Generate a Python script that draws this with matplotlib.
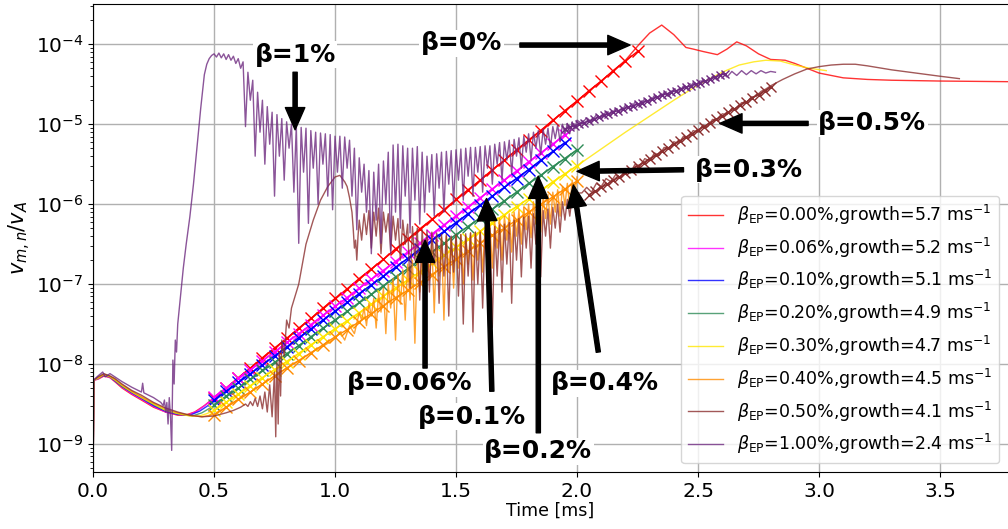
import numpy as np
import matplotlib.pyplot as plt

# values: time in ms, amplitude as log10(v_mn / v_A)

labels = [r'$\beta_{\rm EP}$=0.00%,growth=5.7 ms$^{-1}$',
          r'$\beta_{\rm EP}$=0.06%,growth=5.2 ms$^{-1}$',
          r'$\beta_{\rm EP}$=0.10%,growth=5.1 ms$^{-1}$',
          r'$\beta_{\rm EP}$=0.20%,growth=4.9 ms$^{-1}$',
          r'$\beta_{\rm EP}$=0.30%,growth=4.7 ms$^{-1}$',
          r'$\beta_{\rm EP}$=0.40%,growth=4.5 ms$^{-1}$',
          r'$\beta_{\rm EP}$=0.50%,growth=4.1 ms$^{-1}$',
          r'$\beta_{\rm EP}$=1.00%,growth=2.4 ms$^{-1}$']

# beta = 0 %
t_b000 = [0.0, 0.003, 0.02, 0.045, 0.07, 0.09, 0.12, 0.16, 0.2, 0.25, 0.3, 0.35, 0.38, 0.42, 0.46, 0.5,
          0.6, 0.8, 1.0, 1.2, 1.4, 1.6, 1.8, 2.0, 2.1, 2.2, 2.26, 2.3, 2.35, 2.4, 2.45, 2.48, 2.52, 2.58,
          2.62, 2.66, 2.7, 2.75, 2.8, 2.86, 2.9, 2.95, 3.0, 3.1, 3.2, 3.3, 3.5, 3.85]
lv_b000 = [-9.5, -8.2, -8.19, -8.15, -8.17, -8.22, -8.3, -8.38, -8.45, -8.54, -8.6, -8.64, -8.64, -8.6, -8.52, -8.42,
           -8.18, -7.68, -7.19, -6.69, -6.2, -5.7, -5.2, -4.71, -4.46, -4.2, -3.99, -3.86, -3.76, -3.88, -4.04, -4.06,
           -4.09, -4.13, -4.06, -3.97, -4.02, -4.12, -4.19, -4.2, -4.24, -4.3, -4.36, -4.42, -4.44, -4.45, -4.46, -4.47]

# beta = 0.06 %
t_b006 = [0.0, 0.003, 0.02, 0.045, 0.07, 0.09, 0.12, 0.16, 0.2, 0.25, 0.3, 0.35, 0.39, 0.43, 0.47, 0.5,
          0.7, 1.0, 1.3, 1.6, 1.97]
lv_b006 = [-9.5, -8.2, -8.19, -8.14, -8.17, -8.21, -8.29, -8.37, -8.44, -8.53, -8.6, -8.63, -8.64, -8.59, -8.5, -8.42,
           -7.96, -7.28, -6.6, -5.92, -5.09]

# beta = 0.1 %
t_b010 = [0.0, 0.003, 0.02, 0.045, 0.07, 0.09, 0.12, 0.16, 0.2, 0.25, 0.3, 0.35, 0.4, 0.44, 0.47, 0.5,
          0.7, 1.0, 1.3, 1.6, 1.97]
lv_b010 = [-9.5, -8.2, -8.18, -8.14, -8.16, -8.21, -8.28, -8.36, -8.43, -8.52, -8.59, -8.63, -8.64, -8.59, -8.53, -8.46,
           -8.01, -7.34, -6.68, -6.01, -5.19]

# beta = 0.2 %
t_b020 = [0.0, 0.003, 0.02, 0.045, 0.07, 0.09, 0.12, 0.16, 0.2, 0.25, 0.3, 0.35, 0.41, 0.45, 0.5,
          0.7, 1.0, 1.3, 1.6, 2.0]
lv_b020 = [-9.5, -8.2, -8.18, -8.13, -8.16, -8.2, -8.28, -8.35, -8.42, -8.51, -8.58, -8.62, -8.65, -8.61, -8.52,
           -8.09, -7.45, -6.81, -6.17, -5.32]

# beta = 0.3 %
t_b030 = [0.0, 0.003, 0.02, 0.045, 0.07, 0.09, 0.12, 0.16, 0.2, 0.25, 0.3, 0.35, 0.4, 0.44, 0.47, 0.5,
          0.7, 1.0, 1.3, 1.6, 2.0, 2.1, 2.2, 2.3, 2.4, 2.5, 2.6, 2.67, 2.73, 2.78, 2.84, 2.9, 2.96, 3.03]
lv_b030 = [-9.5, -8.2, -8.18, -8.13, -8.16, -8.2, -8.27, -8.35, -8.42, -8.5, -8.58, -8.62, -8.65, -8.65, -8.62, -8.58,
           -8.17, -7.56, -6.95, -6.34, -5.52, -5.31, -5.1, -4.9, -4.7, -4.51, -4.35, -4.26, -4.22, -4.2, -4.21,
           -4.26, -4.3, -4.33]

# beta = 0.4 %  (smooth start, then samples every 0.01 ms from 1.10 ms)
t_b040 = [0.0, 0.003, 0.02, 0.045, 0.07, 0.09, 0.12, 0.16, 0.2, 0.25, 0.3, 0.35, 0.4, 0.45, 0.5,
          0.6, 0.7, 0.8, 0.9, 0.96, 1.0, 1.02, 1.04, 1.06, 1.08]
lv_b040 = [-9.5, -8.2, -8.17, -8.13, -8.15, -8.19, -8.26, -8.34, -8.41, -8.49, -8.56, -8.61, -8.64, -8.66, -8.63,
           -8.45, -8.25, -8.05, -7.86, -7.76, -7.68, -7.60, -7.70, -7.52, -7.62]
lv_b040_noisy = [-7.36, -7.45, -7.30, -7.52, -7.24, -7.40, -7.18, -7.55, -7.12, -7.35,
                 -7.05, -7.62, -7.00, -7.30, -6.93, -7.70, -6.88, -7.25, -6.82, -7.45,
                 -6.75, -7.20, -6.70, -7.74, -6.62, -7.10, -6.58, -7.40, -6.52, -6.95,
                 -6.48, -7.36, -6.45, -6.90, -6.42, -7.45, -6.40, -6.85, -6.42, -7.05,
                 -6.40, -6.80, -6.38, -7.00, -6.40, -6.75, -6.36, -6.95, -6.35, -6.70,
                 -6.33, -6.85, -6.30, -6.62, -6.26, -6.80, -6.22, -6.55, -6.18, -6.70,
                 -6.15, -6.45, -6.12, -6.60, -6.10, -6.40, -6.07, -6.50, -6.04, -6.32,
                 -6.00, -6.42, -5.97, -6.25, -5.94, -6.35, -5.91, -6.18, -5.88, -6.25,
                 -5.85, -6.10, -5.82, -6.15, -5.78, -6.02, -5.74, -6.05, -5.70, -5.90,
                 -5.66]

# beta = 0.5 %
t_b050 = [0.0, 0.003, 0.02, 0.045, 0.07, 0.09, 0.12, 0.16, 0.2, 0.25, 0.3, 0.35, 0.4, 0.45, 0.5, 0.55,
          0.58, 0.61, 0.63, 0.64, 0.65, 0.66, 0.67, 0.68, 0.69, 0.70, 0.71, 0.72, 0.73, 0.74,
          0.75, 0.755, 0.76, 0.765, 0.77, 0.775, 0.78, 0.79, 0.80, 0.81, 0.82, 0.83,
          0.85, 0.88, 0.91, 0.94, 0.97, 1.0, 1.02, 1.04, 1.05, 1.06, 1.07, 1.075, 1.08, 1.085, 1.09, 1.095]
lv_b050 = [-9.5, -8.2, -8.16, -8.12, -8.15, -8.18, -8.25, -8.33, -8.39, -8.48, -8.55, -8.6, -8.64, -8.66, -8.65, -8.61,
           -8.58, -8.54, -8.50, -8.53, -8.47, -8.52, -8.43, -8.53, -8.40, -8.56, -8.35, -8.6, -8.26, -8.66,
           -8.10, -8.91, -7.98, -8.75, -7.85, -8.4, -7.7, -7.9, -7.45, -7.55, -7.3, -7.2,
           -7.0, -6.5, -6.2, -5.95, -5.78, -5.66, -5.64, -5.72, -5.78, -5.92, -6.1, -6.3, -6.55, -6.45, -6.7, -6.4]
lv_b050_noisy = [-6.20, -6.45, -6.12, -6.38, -6.08, -6.55, -6.10, -6.40, -6.05, -6.62,
                 -6.10, -6.35, -6.12, -6.58, -6.15, -6.45, -6.18, -6.70, -6.20, -6.50,
                 -6.25, -7.05, -6.28, -6.70, -6.30, -7.20, -6.32, -6.80, -6.33, -7.10,
                 -6.35, -6.75, -6.36, -7.24, -6.38, -6.90, -6.38, -7.40, -6.40, -6.85,
                 -6.38, -7.15, -6.38, -7.50, -6.37, -6.90, -6.36, -7.60, -6.35, -7.00,
                 -6.35, -7.30, -6.33, -6.85, -6.30, -7.54, -6.28, -6.90, -6.26, -7.10,
                 -6.25, -6.75, -6.23, -7.24, -6.20, -6.70, -6.18, -6.91, -6.16, -6.55,
                 -6.15, -6.80, -6.12, -6.50, -6.10, -6.91, -6.08, -6.40, -6.06, -6.55,
                 -6.04, -6.30, -6.00, -6.35, -5.97, -6.20, -5.94, -6.15, -5.90, -6.05,
                 -5.86]
lv_b050_late = [-5.86, -5.79, -5.85, -5.74, -5.78, -5.68, -5.72, -5.63, -5.67, -5.57,
                -5.61, -5.50, -5.53, -5.43, -5.46, -5.36, -5.39, -5.29, -5.31, -5.22,
                -5.24, -5.15, -5.17, -5.08, -5.10, -5.01, -5.03, -4.94, -4.95, -4.87,
                -4.88, -4.80, -4.81, -4.73, -4.73, -4.66, -4.65, -4.59, -4.56, -4.52]
t_b050_end = [2.85, 2.9, 2.95, 3.0, 3.05, 3.1, 3.15, 3.2, 3.3, 3.4, 3.5, 3.58]
lv_b050_end = [-4.44, -4.37, -4.31, -4.28, -4.26, -4.25, -4.25, -4.27, -4.32, -4.36, -4.40, -4.43]

# beta = 1 %
t_b100 = [0.0, 0.003, 0.02, 0.04, 0.05, 0.07, 0.09, 0.12, 0.16, 0.2, 0.205, 0.21, 0.25, 0.28, 0.29, 0.295,
          0.30, 0.305, 0.31, 0.315, 0.32, 0.325, 0.33, 0.335, 0.34, 0.345, 0.35, 0.36, 0.373, 0.385,
          0.40, 0.415, 0.43, 0.445, 0.46, 0.47, 0.48, 0.49]
lv_b100 = [-9.5, -8.2, -8.15, -8.1, -8.16, -8.12, -8.16, -8.22, -8.29, -8.35, -8.24, -8.36, -8.42, -8.48, -8.52, -8.45,
           -8.60, -8.48, -8.75, -8.42, -8.65, -9.08, -7.95, -8.25, -7.7, -7.85, -7.5, -7.2, -6.8, -6.5,
           -6.16, -5.75, -5.28, -4.8, -4.38, -4.25, -4.18, -4.14]
lv_b100_noisy = [-4.12, -4.16, -4.11, -4.17, -4.12, -4.19, -4.13, -4.20, -4.15, -4.24,
                 -4.18, -4.30, -4.22, -5.03, -4.35, -4.70, -4.45, -5.40, -4.60, -5.10,
                 -4.70, -5.50, -4.78, -5.25, -4.85, -5.90, -4.88, -5.40, -4.93, -5.70,
                 -4.97, -5.30, -5.00, -5.85, -5.02, -6.49, -5.04, -5.60, -5.05, -6.24,
                 -5.08, -5.55, -5.10, -6.00, -5.11, -5.50, -5.12, -5.90, -5.13, -6.07,
                 -5.15, -5.60, -5.15, -5.80, -5.16, -5.55, -5.20, -5.90, -5.30, -6.32,
                 -5.42, -5.85, -5.50, -6.10, -5.58, -6.62, -5.60, -6.20, -5.50, -6.49,
                 -5.46, -6.00, -5.35, -6.62, -5.26, -6.10, -5.25, -6.30, -5.27, -5.90,
                 -5.30, -6.36, -5.30, -5.95, -5.28, -6.25, -5.35, -6.10, -5.40, -5.85,
                 -5.38, -6.15, -5.37, -5.80, -5.35, -6.10, -5.34, -5.75, -5.33, -6.00,
                 -5.32, -5.70, -5.31, -5.95, -5.30, -5.65, -5.29, -5.90, -5.29, -5.60,
                 -5.28, -5.85, -5.27, -5.55, -5.27, -5.75, -5.25, -5.50, -5.23, -5.70,
                 -5.22, -5.45, -5.20, -5.62, -5.19, -5.40, -5.17, -5.55, -5.15, -5.35,
                 -5.12, -5.45, -5.10, -5.30, -5.08, -5.38, -5.06, -5.25, -5.05, -5.30,
                 -5.03, -5.18, -5.01, -5.22, -5.00, -5.12, -4.99, -5.12, -4.97, -5.06,
                 -4.95]
lv_b100_late = [-4.99, -4.92, -4.97, -4.88, -4.93, -4.84, -4.89, -4.80, -4.86, -4.76,
                -4.82, -4.72, -4.77, -4.68, -4.73, -4.64, -4.69, -4.60, -4.65, -4.56,
                -4.61, -4.52, -4.57, -4.48, -4.53, -4.44, -4.49, -4.40, -4.45, -4.36,
                -4.41, -4.34, -4.39, -4.33, -4.38, -4.33, -4.37, -4.33, -4.36, -4.34,
                -4.35]

# exponential fits drawn with x markers: first sample time, sample spacing, values
fit_start = [0.50, 0.50, 0.50, 0.50, 0.50, 0.50, 2.05, 1.95]
fit_step = [0.05, 0.05, 0.05, 0.05, 0.05, 0.05, 0.025, 0.02]
fit_b000 = [-8.42, -8.30, -8.17, -8.05, -7.92, -7.80, -7.68, -7.55, -7.43, -7.30, -7.18, -7.06, -6.93, -6.81,
            -6.69, -6.56, -6.44, -6.31, -6.19, -6.07, -5.94, -5.82, -5.70, -5.57, -5.45, -5.32, -5.20, -5.08,
            -4.95, -4.83, -4.71, -4.58, -4.46, -4.33, -4.21, -4.09]
fit_b006 = [-8.41, -8.30, -8.18, -8.07, -7.96, -7.85, -7.73, -7.62, -7.51, -7.39, -7.28, -7.17, -7.05, -6.94,
            -6.83, -6.72, -6.60, -6.49, -6.38, -6.26, -6.15, -6.04, -5.92, -5.81, -5.70, -5.59, -5.47, -5.36,
            -5.25, -5.13]
fit_b010 = [-8.45, -8.34, -8.23, -8.12, -8.01, -7.90, -7.79, -7.67, -7.56, -7.45, -7.34, -7.23, -7.12, -7.01,
            -6.90, -6.79, -6.68, -6.56, -6.45, -6.34, -6.23, -6.12, -6.01, -5.90, -5.79, -5.68, -5.57, -5.45,
            -5.34, -5.23]
fit_b020 = [-8.51, -8.40, -8.30, -8.19, -8.08, -7.98, -7.87, -7.77, -7.66, -7.55, -7.45, -7.34, -7.23, -7.13,
            -7.02, -6.91, -6.81, -6.70, -6.60, -6.49, -6.38, -6.28, -6.17, -6.06, -5.96, -5.85, -5.74, -5.64,
            -5.53, -5.43, -5.32]
fit_b030 = [-8.58, -8.48, -8.38, -8.27, -8.17, -8.07, -7.97, -7.87, -7.76, -7.66, -7.56, -7.46, -7.36, -7.25,
            -7.15, -7.05, -6.95, -6.85, -6.74, -6.64, -6.54, -6.44, -6.34, -6.23, -6.13, -6.03, -5.93, -5.83,
            -5.72, -5.62, -5.52]
fit_b040 = [-8.64, -8.54, -8.44, -8.35, -8.25, -8.15, -8.05, -7.96, -7.86, -7.76, -7.66, -7.57, -7.47, -7.37,
            -7.27, -7.17, -7.08, -6.98, -6.88, -6.78, -6.69, -6.59, -6.49, -6.39, -6.30, -6.20, -6.10, -6.00,
            -5.91, -5.81, -5.71]
fit_b050 = [-5.88, -5.84, -5.79, -5.75, -5.70, -5.66, -5.61, -5.57, -5.52, -5.48, -5.43, -5.39, -5.34, -5.30,
            -5.25, -5.21, -5.16, -5.12, -5.07, -5.03, -4.98, -4.94, -4.90, -4.85, -4.81, -4.76, -4.72, -4.67,
            -4.63, -4.58, -4.54]
fit_b100 = [-5.06, -5.04, -5.02, -5.00, -4.98, -4.96, -4.94, -4.91, -4.89, -4.87, -4.85, -4.83, -4.81, -4.79,
            -4.77, -4.75, -4.73, -4.71, -4.69, -4.66, -4.64, -4.62, -4.60, -4.58, -4.56, -4.54, -4.52, -4.50,
            -4.48, -4.46, -4.44, -4.41, -4.39, -4.37]

# annotations: text, text position, arrow tail, arrow tip (time, log10 value)
notes = [('β=1%', (0.835, -4.13), (0.835, -4.35), (0.835, -5.07)),
         ('β=0%', (1.523, -3.99), (1.764, -4.01), (2.219, -4.01)),
         ('β=0.5%', (3.22, -4.99), (2.955, -4.99), (2.59, -4.99)),
         ('β=0.3%', (2.71, -5.57), (2.44, -5.57), (2.0, -5.59)),
         ('β=0.06%', (1.31, -8.24), (1.372, -8.05), (1.372, -6.45)),
         ('β=0.1%', (1.565, -8.66), (1.648, -8.34), (1.626, -5.93)),
         ('β=0.2%', (1.84, -9.09), (1.84, -8.86), (1.84, -5.65)),
         ('β=0.4%', (2.116, -8.24), (2.088, -7.85), (1.985, -5.76))]

colors = ['red', 'magenta', 'blue', 'seagreen', '#ffe600', 'darkorange', '#8b2e2e', '#6e2a80']
marker_sizes = [8.5, 8.5, 8.5, 8.5, 8.5, 8.5, 7, 6]


def sample_times(t0, step, n):
    return t0 + step * np.arange(n)


def build_series():
    series = [
        (t_b000, lv_b000),
        (t_b006, lv_b006),
        (t_b010, lv_b010),
        (t_b020, lv_b020),
        (t_b030, lv_b030),
        (np.concatenate([t_b040, sample_times(1.10, 0.01, len(lv_b040_noisy))]),
         np.concatenate([lv_b040, lv_b040_noisy])),
        (np.concatenate([t_b050, sample_times(1.10, 0.01, len(lv_b050_noisy)),
                         sample_times(2.02, 0.02, len(lv_b050_late)), t_b050_end]),
         np.concatenate([lv_b050, lv_b050_noisy, lv_b050_late, lv_b050_end])),
        (np.concatenate([t_b100, sample_times(0.50, 0.01, len(lv_b100_noisy)),
                         sample_times(2.02, 0.02, len(lv_b100_late))]),
         np.concatenate([lv_b100, lv_b100_noisy, lv_b100_late])),
    ]
    return series


def main():
    fig = plt.figure(figsize=(10.08, 5.29), dpi=100)
    ax = fig.add_axes([0.0923, 0.1078, 0.9077, 0.8847])

    fits = [fit_b000, fit_b006, fit_b010, fit_b020, fit_b030, fit_b040, fit_b050, fit_b100]
    for i, (t, lv) in enumerate(build_series()):
        ax.plot(t, np.power(10.0, lv), color=colors[i], lw=1.0, alpha=0.8, label=labels[i], zorder=2)
        tf = sample_times(fit_start[i], fit_step[i], len(fits[i]))
        ax.plot(tf, np.power(10.0, fits[i]), color=colors[i], lw=1.0, marker='x',
                ms=marker_sizes[i], mew=1.0, zorder=2)

    ax.set_yscale('log')
    ax.set_xlim(0, 3.781)
    ax.set_ylim(10 ** -9.35, 10 ** -3.496)
    ax.set_xticks([0.0, 0.5, 1.0, 1.5, 2.0, 2.5, 3.0, 3.5])
    ax.set_yticks([1e-9, 1e-8, 1e-7, 1e-6, 1e-5, 1e-4])
    ax.grid(True, which='major', color='#b0b0b0', lw=1.0)
    ax.set_axisbelow(True)
    ax.spines['right'].set_visible(False)
    ax.tick_params(labelsize=14.5)
    ax.set_xlabel('Time [ms]', fontsize=12.5, labelpad=1)
    ax.set_ylabel(r'$v_{m,n}/v_A$', fontsize=15, labelpad=2)

    for text, pos, tail, tip in notes:
        ax.annotate('', xy=(tip[0], 10 ** tip[1]), xytext=(tail[0], 10 ** tail[1]),
                    arrowprops=dict(facecolor='black', edgecolor='black', width=3, headwidth=14,
                                    headlength=16, shrink=0), zorder=5)
        ax.text(pos[0], 10 ** pos[1], text, fontsize=18, fontweight='bold', ha='center', va='center',
                bbox=dict(facecolor='white', edgecolor='none', pad=1), zorder=6)

    ax.legend(loc='lower right', fontsize=12.5)
    fig.savefig('out.png', dpi=100)


if __name__ == '__main__':
    main()
